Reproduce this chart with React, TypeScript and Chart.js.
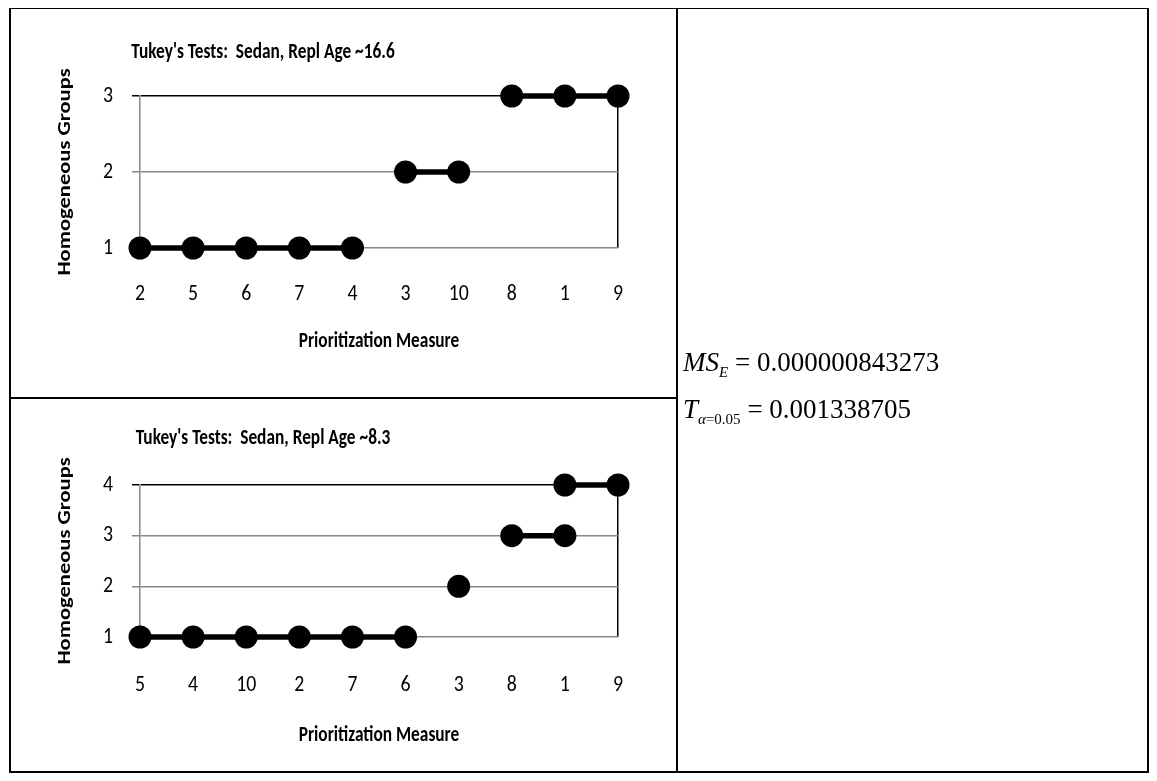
import React, { useEffect, useRef } from "react";
import { Chart, registerables } from "chart.js";

Chart.register(...registerables);

// ---------- data ----------
const categoriesA = ["2", "5", "6", "7", "4", "3", "10", "8", "1", "9"];
const groupA1 = [1, 1, 1, 1, 1, null, null, null, null, null];
const groupA2 = [null, null, null, null, null, 2, 2, null, null, null];
const groupA3 = [null, null, null, null, null, null, null, 3, 3, 3];
const yTicksA = [1, 2, 3];

const categoriesB = ["5", "4", "10", "2", "7", "6", "3", "8", "1", "9"];
const groupB1 = [1, 1, 1, 1, 1, 1, null, null, null, null];
const groupB2 = [null, null, null, null, null, null, 2, null, null, null];
const groupB3 = [null, null, null, null, null, null, null, 3, 3, null];
const groupB4 = [null, null, null, null, null, null, null, null, 4, 4];
const yTicksB = [1, 2, 3, 4];

const titleA = "Tukey's Tests:  Sedan, Repl Age ~16.6";
const titleB = "Tukey's Tests:  Sedan, Repl Age ~8.3";
const xAxisTitle = "Prioritization Measure";
const yAxisTitle = "Homogeneous Groups";
const mseValue = "0.000000843273";
const tValue = "0.001338705";

const FONT = 'Carlito, Lato, "Open Sans", sans-serif';
const GRID = "#878787";
const SX_BOLD = 0.77; // the reference chart titles are horizontally condensed
const SX_TICK = 0.88; // tick labels a little less so

// Draws every chart label condensed across the page's horizontal direction.
const condensePlugin = {
  id: "condense",
  beforeDraw(chart: any) {
    const ctx = chart.ctx as any;
    if (ctx.__origFillText) return;
    const orig = ctx.fillText;
    ctx.__origFillText = orig;
    ctx.fillText = function (text: string, x: number, y: number, maxWidth?: number) {
      const m = this.getTransform();
      const rotated = Math.abs(m.b) > 0.01;
      const sx = /bold/.test(this.font) ? SX_BOLD : SX_TICK;
      this.save();
      this.translate(x, y);
      if (rotated) this.scale(1, sx);
      else this.scale(sx, 1);
      if (maxWidth !== undefined && maxWidth !== null) {
        orig.call(this, text, 0, 0, rotated ? maxWidth : maxWidth / sx);
      } else {
        orig.call(this, text, 0, 0);
      }
      this.restore();
    };
  },
  afterDraw(chart: any) {
    const ctx = chart.ctx as any;
    if (ctx.__origFillText) {
      ctx.fillText = ctx.__origFillText;
      delete ctx.__origFillText;
    }
  },
};

type ChartProps = {
  categories: string[];
  groups: (number | null)[][];
  yTicks: number[];
  title: string;
  width: number;
  height: number;
  titlePadTop: number;
  titlePadBottom: number;
  xHeight: number;
  xTickPad: number;
  xTitlePadBottom: number;
  padBottom: number;
};

function TukeyChart(p: ChartProps) {
  const ref = useRef<HTMLCanvasElement | null>(null);
  useEffect(() => {
    if (!ref.current) return;
    const yMax = p.yTicks[p.yTicks.length - 1];
    const yMin = p.yTicks[0];
    const n = p.categories.length;
    const chart = new Chart(ref.current, {
      type: "line",
      data: {
        labels: p.categories,
        datasets: p.groups.map((g) => ({
          data: g,
          borderColor: "#000",
          backgroundColor: "#000",
          borderWidth: 5.5,
          pointRadius: 11.5,
          pointBackgroundColor: "#000",
          pointBorderColor: "#000",
          pointBorderWidth: 0,
          spanGaps: false,
          fill: false,
          clip: false as any,
          tension: 0,
        })),
      },
      plugins: [condensePlugin as any],
      options: {
        animation: false,
        responsive: false,
        devicePixelRatio: 1,
        events: [],
        layout: { padding: { top: 10, left: 10, right: 58, bottom: p.padBottom } },
        plugins: {
          legend: { display: false },
          tooltip: { enabled: false },
          title: {
            display: true,
            text: p.title,
            color: "#000",
            font: { family: FONT, size: 22.5, weight: "bold" },
            padding: { top: p.titlePadTop, bottom: p.titlePadBottom },
          },
        },
        scales: {
          x: {
            type: "category",
            offset: false,
            border: { display: false },
            grid: {
              drawTicks: false,
              color: (c: any) => (c.index === n - 1 ? "#000" : "rgba(0,0,0,0)"),
              lineWidth: 1.5,
            },
            ticks: {
              color: "#000",
              font: { family: FONT, size: 22.5 },
              padding: p.xTickPad,
              maxRotation: 0,
              autoSkip: false,
            },
            title: {
              display: true,
              text: xAxisTitle,
              color: "#000",
              font: { family: FONT, size: 22.5, weight: "bold" },
              padding: { top: 0, bottom: p.xTitlePadBottom },
            },
            afterFit: (s: any) => {
              s.height = p.xHeight;
            },
          },
          y: {
            type: "linear",
            min: yMin,
            max: yMax,
            border: { display: true, color: GRID, width: 1.5 },
            grid: {
              color: (c: any) => (c.tick && c.tick.value === yMax ? "#000" : GRID),
              lineWidth: 1.5,
              tickLength: 8,
            },
            ticks: {
              color: "#000",
              font: { family: FONT, size: 22.5 },
              padding: 19,
            },
            afterBuildTicks: (s: any) => {
              s.ticks = p.yTicks.map((v) => ({ value: v }));
            },
            title: {
              display: true,
              text: yAxisTitle,
              color: "#000",
              font: { family: FONT, size: 22.5, weight: "bold" },
              padding: { top: 144.5, bottom: 0 },
            },
            afterFit: (s: any) => {
              s.width = 232;
            },
          },
        },
      },
    });
    return () => chart.destroy();
  }, []);
  return <canvas ref={ref} width={p.width} height={p.height} style={{ display: "block" }} />;
}

const abs = (l: number, t: number, w: number, h: number): React.CSSProperties => ({
  position: "absolute",
  left: l,
  top: t,
  width: w,
  height: h,
});

export default function App() {
  const serif = '"Liberation Serif", "Times New Roman", serif';
  const mathStyle: React.CSSProperties = {
    position: "absolute",
    left: 675,
    fontFamily: serif,
    fontSize: 27,
    lineHeight: "32px",
    whiteSpace: "nowrap",
    color: "#000",
  };
  return (
    <div style={{ position: "relative", width: 1141, height: 767 }}>
      <div style={{ position: "absolute", left: -110, top: 1 }}>
        <TukeyChart
          categories={categoriesA}
          groups={[groupA1, groupA2, groupA3]}
          yTicks={yTicksA}
          title={titleA}
          width={778}
          height={387}
          titlePadTop={19.5}
          titlePadBottom={30.5}
          xHeight={120}
          xTickPad={33}
          xTitlePadBottom={13.5}
          padBottom={28}
        />
      </div>
      <div style={{ position: "absolute", left: -110, top: 391 }}>
        <TukeyChart
          categories={categoriesB}
          groups={[groupB1, groupB2, groupB3, groupB4]}
          yTicks={yTicksB}
          title={titleB}
          width={778}
          height={372}
          titlePadTop={15.5}
          titlePadBottom={33.5}
          xHeight={120}
          xTickPad={35}
          xTitlePadBottom={8.5}
          padBottom={14}
        />
      </div>
      <div style={{ ...abs(1, -1, 1140, 766), border: "2px solid #000", boxSizing: "border-box" }} />
      <div style={{ ...abs(668, -1, 2, 766), background: "#000" }} />
      <div style={{ ...abs(1, 389, 669, 2), background: "#000" }} />
      <div style={{ ...mathStyle, top: 338 }}>
        <i>MS</i>
        <sub style={{ fontSize: 15, verticalAlign: "-6px" }}>
          <i>E</i>
        </sub>
        <span>&nbsp;= {mseValue}</span>
      </div>
      <div style={{ ...mathStyle, top: 385 }}>
        <i>T</i>
        <sub style={{ fontSize: 15, verticalAlign: "-6px" }}>
          <i>α</i>=0.05
        </sub>
        <span>&nbsp;= {tValue}</span>
      </div>
    </div>
  );
}
